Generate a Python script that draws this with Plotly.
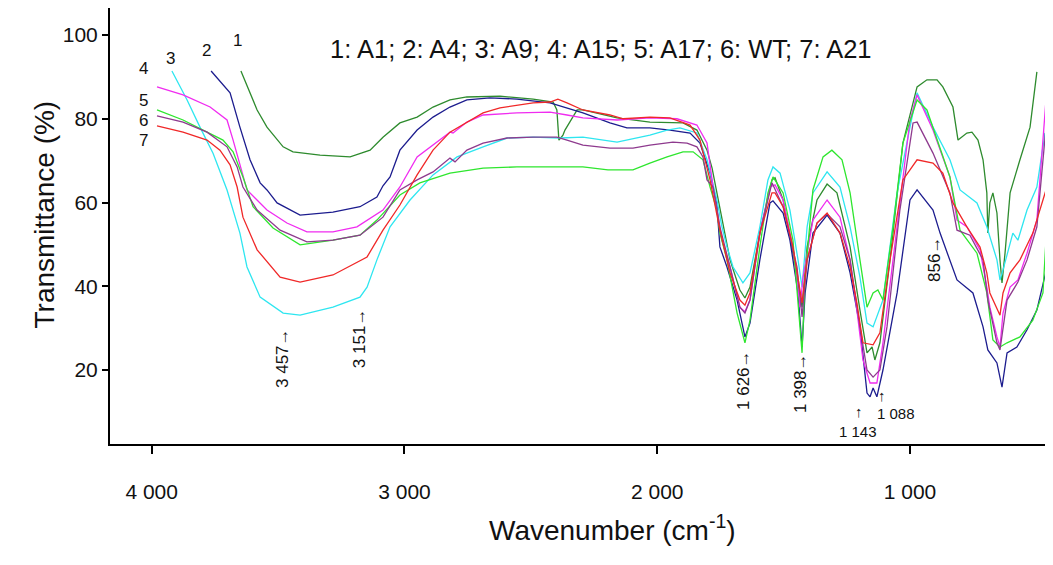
import plotly.graph_objects as go

# ---------------- data (wavenumber cm-1, transmittance %) ----------------
a1_wn = [3647, 3583, 3544, 3480, 3441, 3334, 3215, 3136, 3085, 3018, 2950, 2887, 2820, 2753, 2622, 2491,
         2412, 2397, 2389, 2373, 2365, 2317, 2294, 2159, 2029, 1898, 1843, 1819, 1803, 1783, 1764, 1744,
         1712, 1673, 1653, 1633, 1594, 1546, 1534, 1502, 1463, 1427, 1407, 1368, 1328, 1289, 1237, 1198,
         1170, 1150, 1139, 1119, 1079, 1028, 972, 933, 893, 870, 830, 810, 775, 755, 731, 711, 696, 692,
         684, 672, 656, 644, 636, 624, 604, 565, 525, 498]
a1_t = [91.4, 82.1, 78.0, 73.3, 72.1, 71.3, 70.9, 72.5, 75.6, 79.0, 80.4, 82.8, 84.5, 85.2, 85.4, 84.7,
        84.0, 82.1, 74.9, 76.1, 77.3, 82.1, 82.1, 80.2, 79.2, 79.0, 77.3, 74.2, 72.5, 68.2, 62.5, 55.8,
        46.3, 39.1, 37.2, 39.8, 52.7, 65.4, 65.9, 60.6, 47.9, 35.0, 49.4, 60.6, 64.4, 62.3, 49.4, 34.3,
        24.1, 25.5, 22.4, 26.5, 46.3, 74.2, 87.6, 89.3, 89.3, 87.6, 82.8, 74.9, 76.6, 76.8, 74.9, 70.2, 62.3, 52.7,
        59.9, 62.3, 57.5, 46.3, 40.8, 47.9, 62.3, 70.2, 78.0, 91.2]

a4_wn = [3765, 3690, 3651, 3611, 3571, 3544, 3504, 3413, 3283, 3176, 3109, 3085, 3057, 3018, 2950, 2887,
         2820, 2753, 2662, 2555, 2424, 2357, 2294, 2187, 2120, 2029, 1950, 1870, 1831, 1791, 1764, 1752,
         1724, 1684, 1653, 1633, 1594, 1554, 1542, 1502, 1475, 1443, 1427, 1415, 1384, 1328, 1277, 1237,
         1198, 1170, 1158, 1146, 1131, 1107, 1051, 1000, 972, 909, 881, 814, 751, 711, 692, 656, 636, 616,
         577, 537, 498, 458]
a4_t = [91.4, 86.2, 78.0, 70.2, 64.7, 63.0, 59.9, 57.0, 57.7, 59.0, 61.3, 64.0, 66.1, 72.5, 77.3, 80.4,
        82.8, 84.5, 85.0, 84.7, 83.8, 82.6, 81.4, 79.0, 77.8, 77.8, 77.3, 76.6, 74.2, 67.0, 59.4, 49.4,
        44.6, 36.7, 27.9, 31.2, 46.3, 59.9, 60.4, 57.5, 51.0, 38.4, 25.5, 38.4, 52.7, 57.0, 52.7, 43.2,
        30.3, 14.5, 13.6, 15.7, 13.6, 20.0, 38.4, 60.6, 63.0, 58.2, 52.7, 41.5, 38.4, 30.3, 24.8, 21.7, 15.9, 24.1,
        25.5, 29.6, 34.3, 44.6]

a9_wn = [3920, 3860, 3809, 3757, 3702, 3651, 3623, 3571, 3480, 3413, 3283, 3176, 3148, 3109, 3057, 2978,
         2887, 2792, 2689, 2594, 2491, 2385, 2294, 2159, 2029, 1961, 1910, 1843, 1803, 1764, 1744, 1724,
         1700, 1661, 1633, 1594, 1562, 1542, 1514, 1475, 1443, 1427, 1407, 1384, 1328, 1277, 1237, 1198,
         1170, 1146, 1107, 1051, 1000, 972, 909, 842, 802, 735, 696, 656, 644, 632, 593, 573, 537, 498, 466]
a9_t = [91.4, 84.5, 78.0, 71.7, 63.0, 52.7, 44.6, 37.4, 33.6, 33.1, 35.0, 37.4, 39.8, 46.3, 54.2, 60.6,
        66.6, 70.9, 73.3, 75.4, 75.6, 75.4, 75.6, 74.4, 76.1, 77.3, 77.8, 76.6, 70.2, 60.6, 54.2, 49.4,
        44.6, 40.8, 43.2, 54.2, 65.4, 68.5, 67.0, 58.2, 46.3, 39.8, 54.2, 62.3, 67.3, 63.7, 54.2, 42.2,
        31.2, 30.3, 36.7, 62.3, 78.0, 86.2, 78.0, 70.2, 63.0, 59.9, 54.2, 46.3, 41.5, 43.9, 52.7, 51.0, 58.2, 63.7, 76.6]

a15_wn = [3979, 3876, 3769, 3702, 3678, 3639, 3623, 3544, 3465, 3386, 3283, 3188, 3085, 3018, 2950, 2820,
          2808, 2753, 2689, 2555, 2424, 2357, 2294, 2159, 2029, 1922, 1843, 1803, 1779, 1744, 1712, 1673,
          1653, 1633, 1594, 1554, 1534, 1502, 1463, 1435, 1423, 1384, 1328, 1277, 1237, 1210, 1186, 1158,
          1131, 1107, 1051, 1000, 972, 909, 842, 814, 775, 723, 696, 684, 656, 644, 632, 604, 573, 537, 498, 462]
a15_t = [87.6, 85.7, 82.8, 79.7, 74.9, 66.5, 63.0, 58.2, 55.1, 53.0, 53.0, 54.2, 58.2, 63.7, 70.9, 76.8,
         76.6, 79.2, 80.9, 81.4, 81.6, 80.9, 80.2, 79.7, 80.2, 80.0, 78.5, 74.2, 63.7, 51.0, 44.6, 35.0,
         33.9, 36.7, 52.7, 63.7, 64.2, 60.6, 49.4, 35.0, 42.2, 55.8, 60.6, 56.5, 46.3, 34.3, 22.4, 16.9,
         16.9, 26.5, 54.2, 79.7, 85.7, 77.3, 66.1, 55.8, 54.2, 48.7, 39.8, 35.0, 27.9, 25.5, 33.6, 39.8, 41.5, 47.9, 55.8, 84.5]

a17_wn = [3979, 3876, 3781, 3718, 3678, 3639, 3599, 3520, 3413, 3283, 3176, 3109, 3018, 2939, 2820, 2689,
          2555, 2424, 2294, 2195, 2096, 2029, 1961, 1898, 1858, 1819, 1791, 1764, 1752, 1724, 1684, 1653,
          1633, 1594, 1562, 1542, 1502, 1463, 1427, 1415, 1384, 1344, 1309, 1269, 1237, 1198, 1170, 1146,
          1127, 1107, 1067, 1028, 972, 933, 842, 802, 735, 696, 672, 644, 616, 565, 514, 474, 462]
a17_t = [82.1, 79.7, 76.8, 74.9, 72.1, 66.1, 59.0, 53.9, 49.9, 51.0, 52.2, 55.8, 61.8, 64.7, 67.0, 68.2,
         68.5, 68.5, 68.5, 67.8, 67.8, 69.4, 70.9, 72.1, 72.1, 70.2, 63.7, 58.2, 52.7, 46.3, 33.6, 26.5,
         31.9, 49.4, 62.3, 66.1, 62.3, 51.0, 24.1, 42.2, 63.0, 70.9, 72.5, 70.2, 62.3, 46.3, 35.0, 38.4,
         39.1, 36.7, 54.2, 74.2, 84.5, 82.1, 66.1, 53.4, 47.9, 38.4, 27.2, 25.5, 26.5, 27.9, 31.9, 38.4, 51.0]

wt_wn = [3979, 3876, 3781, 3702, 3662, 3639, 3583, 3492, 3386, 3283, 3176, 3085, 3018, 2950, 2887, 2820,
         2800, 2753, 2689, 2594, 2491, 2397, 2357, 2294, 2187, 2096, 2029, 1938, 1882, 1843, 1819, 1803,
         1779, 1752, 1712, 1673, 1653, 1633, 1594, 1546, 1502, 1447, 1427, 1407, 1368, 1328, 1277, 1237,
         1198, 1170, 1146, 1119, 1091, 1040, 988, 972, 909, 842, 814, 763, 711, 692, 656, 644, 616, 573,
         537, 498, 462]
wt_t = [80.7, 79.2, 76.8, 73.3, 68.5, 63.7, 58.2, 53.4, 50.6, 51.0, 52.2, 56.5, 63.0, 65.4, 67.3, 70.6,
        69.7, 72.5, 74.2, 75.4, 75.6, 75.6, 74.9, 73.7, 73.0, 73.0, 73.7, 74.4, 74.2, 73.3, 70.9, 65.4,
        63.7, 54.2, 44.6, 35.0, 33.6, 36.7, 52.7, 64.7, 59.0, 44.6, 32.7, 46.3, 55.1, 57.3, 54.2, 46.3,
        30.3, 20.0, 18.3, 20.0, 30.3, 58.2, 79.0, 79.2, 71.8, 62.3, 53.4, 52.2, 46.3, 36.7, 26.5, 24.8, 36.7, 41.0,
        46.3, 54.2, 78.0]

a21_wn = [3979, 3876, 3781, 3730, 3690, 3662, 3639, 3583, 3492, 3413, 3283, 3188, 3148, 3085, 3018, 2950,
          2887, 2820, 2753, 2689, 2622, 2555, 2491, 2424, 2393, 2357, 2294, 2187, 2135, 2029, 1950, 1870,
          1831, 1791, 1752, 1712, 1673, 1653, 1633, 1594, 1546, 1534, 1502, 1463, 1427, 1407, 1368, 1328,
          1277, 1237, 1210, 1186, 1146, 1119, 1079, 1028, 972, 909, 870, 830, 775, 723, 696, 684, 644, 632,
          604, 565, 514, 462]
a21_t = [78.3, 76.8, 74.9, 72.5, 69.0, 63.7, 56.5, 48.7, 42.2, 41.0, 42.7, 45.6, 47.0, 53.4, 59.4, 66.6,
         72.5, 76.8, 79.2, 81.4, 82.6, 83.3, 83.8, 84.0, 84.7, 83.8, 82.1, 80.9, 80.0, 80.4, 80.2, 78.5,
         74.9, 65.4, 53.4, 43.2, 36.7, 35.5, 38.4, 52.7, 62.3, 62.3, 59.0, 49.4, 36.0, 46.3, 55.1, 57.5,
         52.7, 44.6, 36.0, 26.5, 26.0, 28.9, 46.3, 65.4, 70.2, 69.4, 67.0, 59.9, 54.2, 49.4, 43.2, 38.4, 33.1, 38.4,
         43.2, 46.3, 52.7, 63.0]

series_names = ["A1", "A4", "A9", "A15", "A17", "WT", "A21"]
series_wn = [a1_wn, a4_wn, a9_wn, a15_wn, a17_wn, wt_wn, a21_wn]
series_t = [a1_t, a4_t, a9_t, a15_t, a17_t, wt_t, a21_t]
series_colors = ["#2E8B2E", "#1C1C8E", "#2EE6F0", "#F02CF0", "#2EE62E", "#8E3A8E", "#F02828"]

# curve number labels: (text, wavenumber, transmittance)
num_labels = [("1", 3662, 98.8), ("2", 3785, 96.4), ("3", 3924, 94.3), ("4", 4034, 92.1),
              ("5", 4034, 84.3), ("6", 4034, 79.5), ("7", 4034, 74.7)]

# peak labels (rotated): (text, wavenumber position, transmittance position)
peak_labels = [("3 457\u2192", 3480, 22.9), ("3 151\u2192", 3180, 27.6), ("1 626\u2192", 1661, 17.6),
               ("1 398\u2192", 1431, 16.9), ("856\u2192", 901, 46.3)]
small_labels = [("\u2191", 1202, 10.2), ("1 143", 1206, 5.4), ("\u2191", 1111, 14.0), ("1 088", 1055, 9.7)]

x_ticks = [4000, 3000, 2000, 1000]
x_ticktext = ["4 000", "3 000", "2 000", "1 000"]
y_ticks = [20, 40, 60, 80, 100]

FONT = "Liberation Sans, Arial, sans-serif"

fig = go.Figure()
for name, wn, t, c in zip(series_names, series_wn, series_t, series_colors):
    fig.add_trace(go.Scatter(x=wn, y=t, mode="lines", name=name,
                             line=dict(color=c, width=1.3), showlegend=False))

annotations = []
for txt, x, y in num_labels:
    annotations.append(dict(x=x, y=y, xref="x", yref="y", text=txt, showarrow=False,
                            font=dict(size=17, color="#111", family=FONT)))
for txt, x, y in peak_labels:
    annotations.append(dict(x=x, y=y, xref="x", yref="y", text=txt, showarrow=False, textangle=-90,
                            font=dict(size=17, color="#111", family=FONT)))
for txt, x, y in small_labels:
    annotations.append(dict(x=x, y=y, xref="x", yref="y", text=txt, showarrow=False,
                            font=dict(size=15, color="#111", family=FONT)))

annotations.append(dict(x=0.523, y=0.943, xref="paper", yref="paper", showarrow=False,
                        text="1: A1; 2: A4; 3: A9; 4: A15; 5: A17; 6: WT; 7: A21",
                        font=dict(size=25.5, color="#111", family=FONT)))
annotations.append(dict(x=0.536, y=-0.2385, xref="paper", yref="paper", showarrow=False,
                        text="Wavenumber (cm<sup>-1</sup>)",
                        font=dict(size=28, color="#111", family=FONT)))
annotations.append(dict(x=-0.0885, y=0.5275, xref="paper", yref="paper", showarrow=False,
                        text="Transmittance (%)", textangle=-90,
                        font=dict(size=28, color="#111", family=FONT)))

# the page body has an 8px default margin, so the figure is drawn 8px lower/right
fig.update_layout(
    width=1045, height=557,
    margin=dict(l=102, r=5, t=0, b=121),
    paper_bgcolor="white", plot_bgcolor="white",
    annotations=annotations,
    font=dict(family=FONT, color="#111"),
)
fig.update_xaxes(range=[4165, 454], tickvals=x_ticks, ticktext=x_ticktext,
                 showgrid=False, zeroline=False, showline=True, linecolor="black", linewidth=2,
                 ticks="outside", ticklen=8, tickwidth=2, tickcolor="black",
                 tickfont=dict(size=21, family=FONT, color="#111"), ticklabelstandoff=20)
fig.update_yaxes(range=[2.33, 106.45], tickvals=y_ticks,
                 showgrid=False, zeroline=False, showline=True, linecolor="black", linewidth=2,
                 ticks="outside", ticklen=6, tickwidth=2, tickcolor="black",
                 tickfont=dict(size=21, family=FONT, color="#111"))

fig.write_html("out.html")
